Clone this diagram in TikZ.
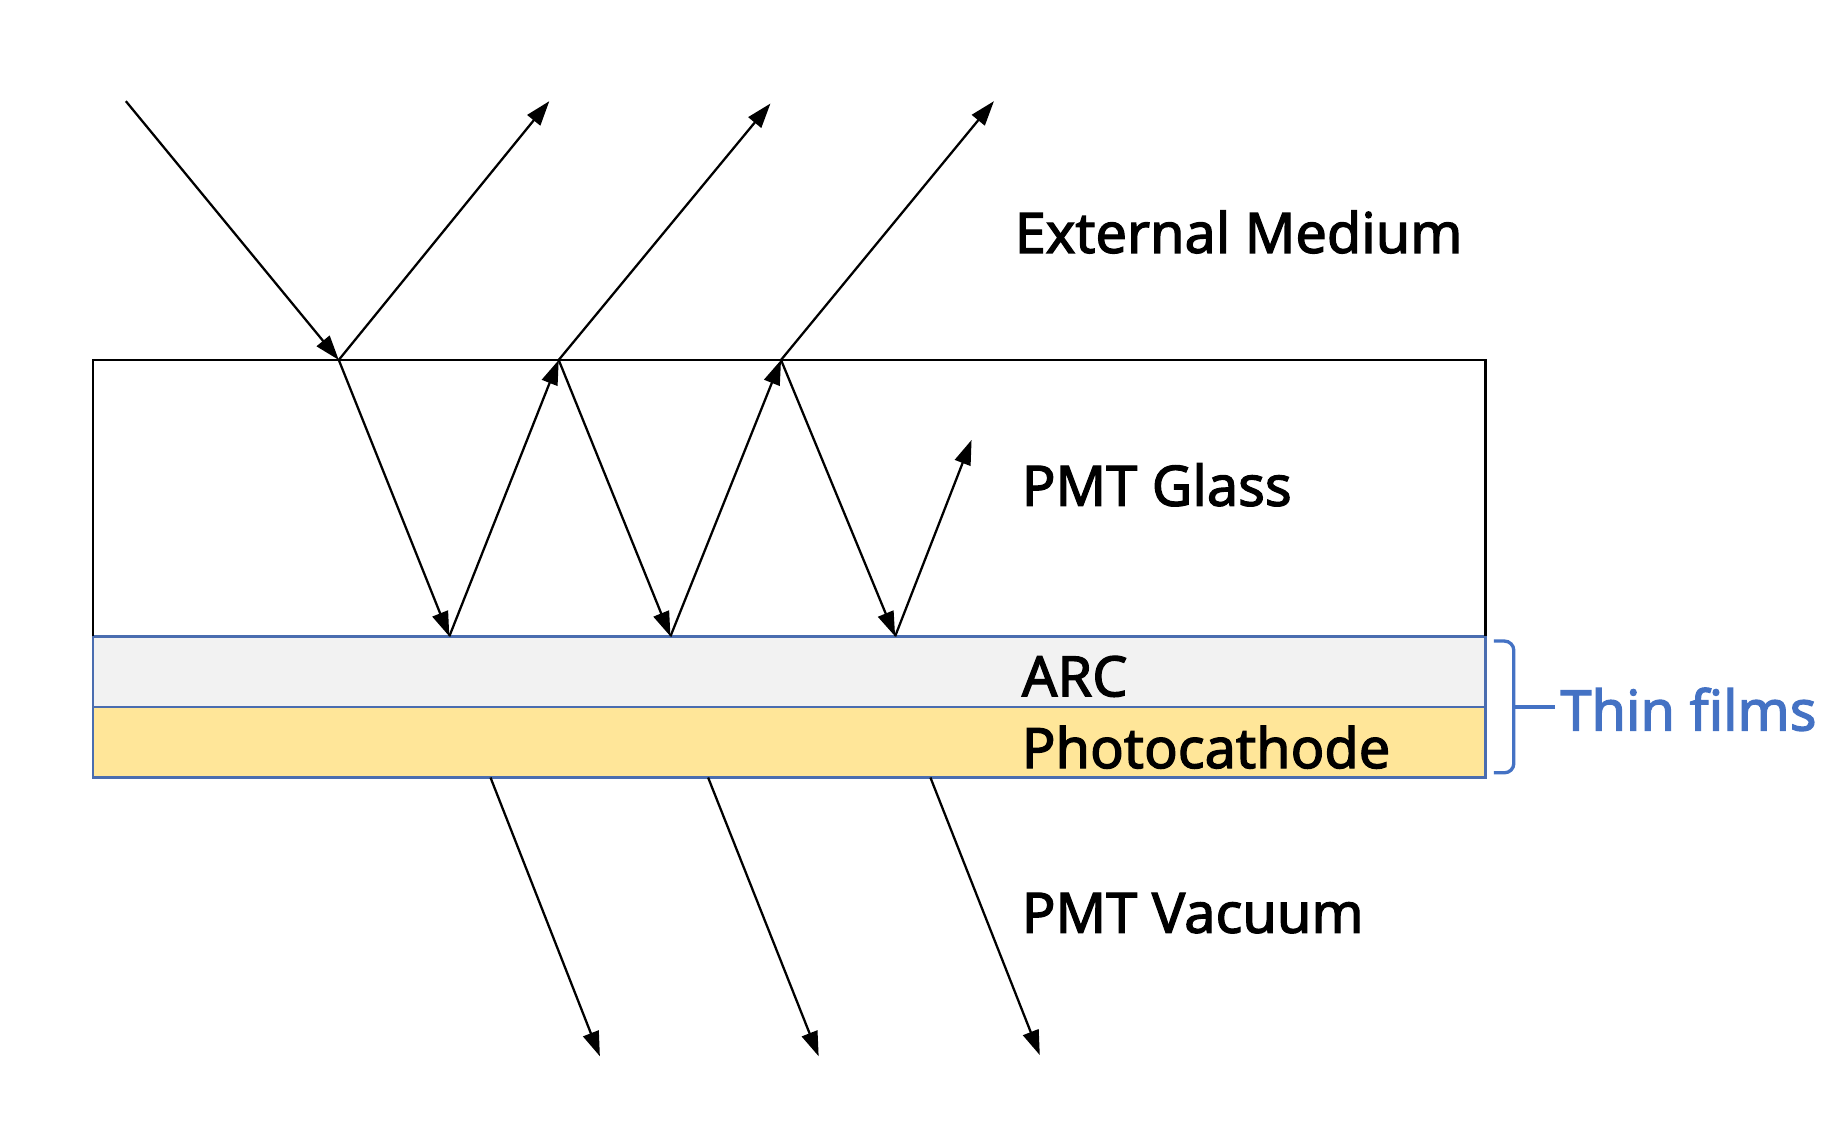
\documentclass[tikz,border=0pt]{standalone}
\usepackage{fontspec}
\setmainfont{Noto Sans}
\newfontfamily\lblfont{Noto Sans}[FakeBold=2.2]
\usetikzlibrary{arrows.meta}
\definecolor{arcfill}{HTML}{F2F2F2}
\definecolor{pcfill}{HTML}{FFE699}
\definecolor{filmblue}{HTML}{4472C4}
\definecolor{edgeblue}{HTML}{4A6DB0}
\begin{document}
\begin{tikzpicture}[x=0.01cm,y=-0.01cm,
  ray/.style={line width=0.55pt,-{Triangle[length=0.21cm,width=0.14cm]}},
  lbl/.style={anchor=base west,inner sep=0pt,font=\lblfont\fontsize{13.5pt}{16pt}\selectfont},
  filmedge/.style={draw=edgeblue,line width=0.6pt}]
\useasboundingbox (0,0) rectangle (1566,966);
% layers
\fill[white] (79,306) rectangle (1263,541);
\draw[filmedge,fill=arcfill] (79,541) rectangle (1263,601);
\draw[filmedge,fill=pcfill] (79,601) rectangle (1263,661);
\draw[line width=0.6pt] (79,541) -- (79,306) -- (1263,306) -- (1263,541);
% points
\coordinate (src) at (107,86);
\coordinate (P1) at (288,306);
\coordinate (P2) at (475,306);
\coordinate (P3) at (664,306);
\coordinate (B1) at (382,541);
\coordinate (B2) at (570,541);
\coordinate (B3) at (761,541);
\coordinate (R1) at (467,86);
\coordinate (R2) at (655,88);
\coordinate (R3) at (845,86);
\coordinate (R4) at (826,374);
\coordinate (T1s) at (417,661);
\coordinate (T2s) at (602,661);
\coordinate (T3s) at (791,661);
\coordinate (T1e) at (510,898);
\coordinate (T2e) at (696,898);
\coordinate (T3e) at (884,897);
% rays
\draw[ray] (src) -- (P1);
\draw[ray] (P1) -- (R1);
\draw[ray] (P2) -- (R2);
\draw[ray] (P3) -- (R3);
\draw[ray] (P1) -- (B1);
\draw[ray] (B1) -- (P2);
\draw[ray] (P2) -- (B2);
\draw[ray] (B2) -- (P3);
\draw[ray] (P3) -- (B3);
\draw[ray] (B3) -- (R4);
\draw[ray] (T1s) -- (T1e);
\draw[ray] (T2s) -- (T2e);
\draw[ray] (T3s) -- (T3e);
% labels
\node[lbl] (ext) at (862,215) {External Medium};
\node[lbl] (gl) at (868,430) {PMT Glass};
\node[lbl] (arc) at (868,592) {ARC};
\node[lbl] (pc) at (868,653) {Photocathode};
\node[lbl] (vac) at (868,793) {PMT Vacuum};
\node[lbl,text=filmblue] (tf) at (1326,621) {Thin films};
% brace
\coordinate (bt) at (1270,545);
\coordinate (bb) at (1270,657);
\coordinate (bm) at (1287,601);
\coordinate (btip) at (1322,601);
\draw[filmblue,line width=0.8pt] (bt) -- (1279,545) to[out=0,in=90] (1287,553) -- (1287,649) to[out=-90,in=0] (1279,657) -- (bb);
\draw[filmblue,line width=0.8pt] (bm) -- (btip);
\end{tikzpicture}
\end{document}
